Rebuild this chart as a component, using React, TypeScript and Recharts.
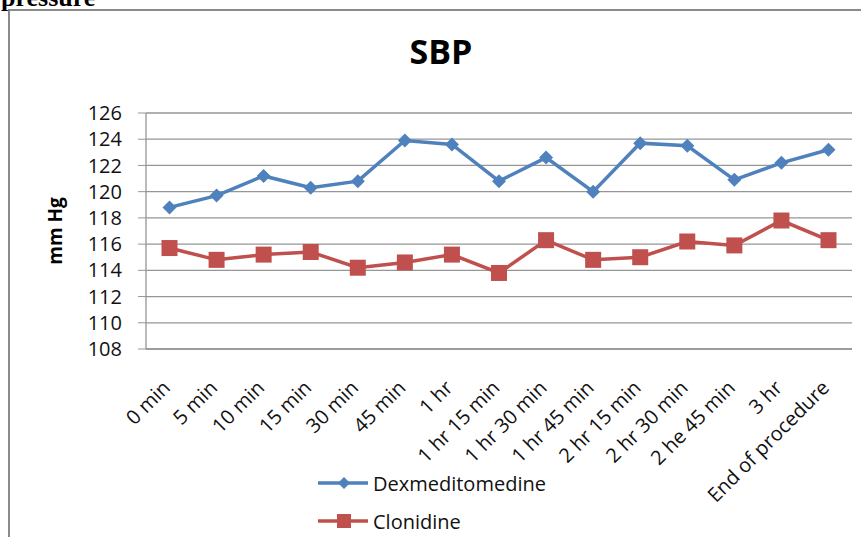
import { LineChart, Line, XAxis, YAxis, CartesianGrid } from "recharts";

const times = [
    "0 min", "5 min", "10 min", "15 min", "30 min", "45 min", "1 hr",
    "1 hr 15 min", "1 hr 30 min", "1 hr 45 min", "2 hr 15 min",
    "2 hr 30 min", "2 he 45 min", "3 hr", "End of procedure",
];
const dexValues = [118.8, 119.7, 121.2, 120.3, 120.8, 123.9, 123.6, 120.8, 122.6, 120.0, 123.7, 123.5, 120.9, 122.2, 123.2];
const cloValues = [115.7, 114.8, 115.2, 115.4, 114.2, 114.6, 115.2, 113.8, 116.3, 114.8, 115.0, 116.2, 115.9, 117.8, 116.3];
const yTicks = [108, 110, 112, 114, 116, 118, 120, 122, 124, 126];

const BLUE = "#4f81bd";
const RED = "#c0504d";
const GRID = "#969696";
const FONT = "'Open Sans', sans-serif";
const TEXT_SIZE = 20;

const data = times.map((t, i) => ({ time: t, dex: dexValues[i], clo: cloValues[i] }));

// diamond marker for Dexmeditomedine
const Diamond = (props: any) => {
    const { cx, cy, index } = props;
    if (cx == null || cy == null) return null;
    const r = 7;
    return (
        <path
            key={`d-${index}`}
            d={`M${cx},${cy - r} L${cx + r},${cy} L${cx},${cy + r} L${cx - r},${cy} Z`}
            fill={BLUE}
        />
    );
};

// square marker for Clonidine
const Square = (props: any) => {
    const { cx, cy, index } = props;
    if (cx == null || cy == null) return null;
    const s = 8;
    return <rect key={`s-${index}`} x={cx - s} y={cy - s} width={s * 2} height={s * 2} fill={RED} />;
};

const XTick = (props: any) => {
    const { x, y, payload } = props;
    return (
        <text
            x={x + 2}
            y={y}
            transform={`rotate(-45, ${x + 2}, ${y})`}
            textAnchor="end"
            fontFamily={FONT}
            fontSize={TEXT_SIZE}
            fill="#111"
        >
            {payload.value}
        </text>
    );
};

export default function App() {
    return (
        <div style={{ position: "relative", width: 861, height: 537, overflow: "hidden", background: "#fff" }}>
            <style>{"html, body { margin: 0; padding: 0; }"}</style>

            {/* figure frame */}
            <div style={{ position: "absolute", left: 8, top: 9, width: 900, height: 600, borderLeft: "2px solid #8a8a8a", borderTop: "2px solid #8a8a8a" }} />

            <div
                style={{
                    position: "absolute", left: 0, width: 882, top: 28, textAlign: "center",
                    fontFamily: FONT, fontWeight: "bold", fontSize: 34, color: "#000",
                }}
            >
                SBP
            </div>

            <div
                style={{
                    position: "absolute", left: 55, top: 231, transform: "translate(-50%, -50%) rotate(-90deg)",
                    fontFamily: FONT, fontWeight: "bold", fontSize: 19, whiteSpace: "nowrap", color: "#000",
                }}
            >
                mm Hg
            </div>

            <div style={{ position: "absolute", left: 0, top: 0 }}>
                <LineChart width={861} height={537} data={data} margin={{ top: 113, right: 9, bottom: 128, left: 0 }}>
                    <CartesianGrid vertical={false} stroke={GRID} strokeWidth={1.3} />
                    <XAxis
                        dataKey="time"
                        interval={0}
                        height={60}
                        padding={{ left: 23.5, right: 23.5 }}
                        tickLine={false}
                        axisLine={{ stroke: GRID, strokeWidth: 1.3 }}
                        tick={<XTick />}
                        tickMargin={34}
                    />
                    <YAxis
                        width={146}
                        domain={[108, 126]}
                        ticks={yTicks}
                        interval={0}
                        tickSize={8}
                        tickMargin={16}
                        tickLine={{ stroke: GRID }}
                        axisLine={{ stroke: GRID, strokeWidth: 1.3 }}
                        tick={{ fontFamily: FONT, fontSize: TEXT_SIZE, fill: "#111" }}
                    />
                    <Line dataKey="dex" stroke={BLUE} strokeWidth={3.5} dot={Diamond} isAnimationActive={false} />
                    <Line dataKey="clo" stroke={RED} strokeWidth={3.5} dot={Square} isAnimationActive={false} />
                </LineChart>
            </div>

            {/* legend */}
            {[
                { name: "Dexmeditomedine", color: BLUE, top: 483, shape: "diamond" },
                { name: "Clonidine", color: RED, top: 521, shape: "square" },
            ].map((item) => (
                <div key={item.name} style={{ position: "absolute", left: 318, top: item.top - 15, height: 30, display: "flex", alignItems: "center" }}>
                    <svg width={52} height={30}>
                        <line x1={0} y1={15} x2={50} y2={15} stroke={item.color} strokeWidth={3.5} />
                        {item.shape === "diamond" ? (
                            <path d="M26,9 L32,15 L26,21 L20,15 Z" fill={item.color} />
                        ) : (
                            <rect x={19} y={8} width={14} height={14} fill={item.color} />
                        )}
                    </svg>
                    <span style={{ marginLeft: 3, fontFamily: FONT, fontSize: TEXT_SIZE, color: "#111" }}>{item.name}</span>
                </div>
            ))}

            {/* page text cut off above the figure */}
            <svg width={200} height={20} style={{ position: "absolute", left: 0, top: 0, zIndex: 5 }}>
                <text x={1} y={6} fontFamily="'Liberation Serif', serif" fontWeight="bold" fontSize={26} fill="#000">
                    pressure
                </text>
            </svg>
        </div>
    );
}
